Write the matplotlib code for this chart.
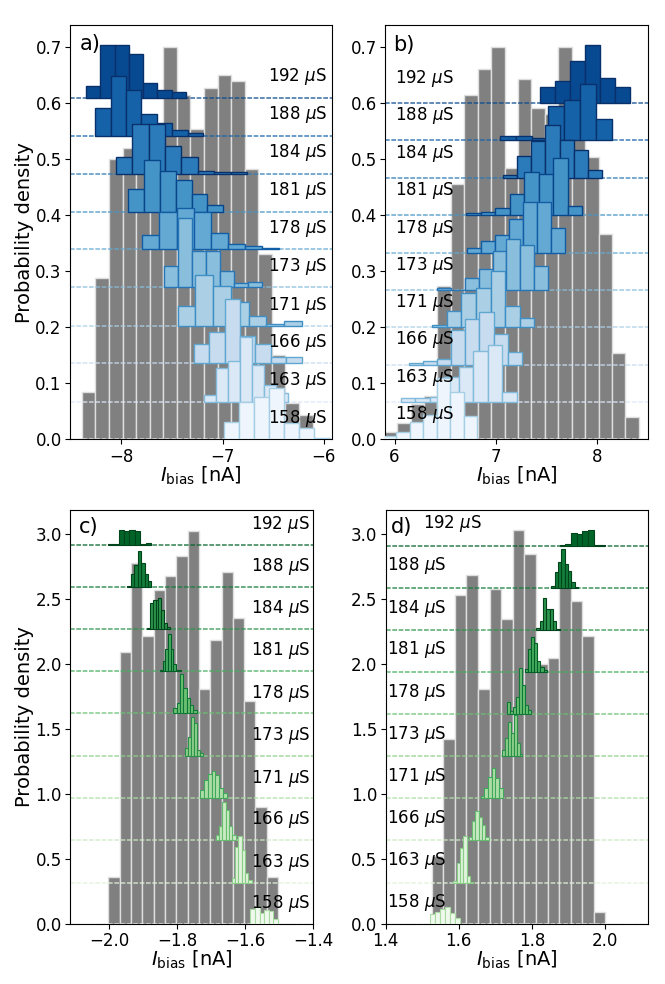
# %% =========================
# Paquetes
# ============================
import numpy as np
import matplotlib
matplotlib.use("Agg")
import matplotlib.pyplot as plt

# %% =========================
# Datos
# ============================

conductancias = [158, 163, 166, 171, 173, 178, 181, 184, 188, 192]

# ---- Panel a (I_bias negativa) ----
a_gris_inicio = -8.389
a_gris_ancho = 0.134
a_gris = [0.084, 0.287, 0.50, 0.52, 0.55, 0.55, 0.70, 0.615, 0.553, 0.627,
          0.65, 0.639, 0.483, 0.331, 0.150, 0.065, 0.043]
a_desplaz = [0.0, 0.067, 0.1355, 0.202, 0.271, 0.339, 0.406, 0.474, 0.541, 0.609]
a_inicio = [-6.987, -7.185, -7.284, -7.443, -7.581, -7.79, -7.934, -8.053, -8.257, -8.347]
a_ancho = [0.149, 0.119, 0.152, 0.175, 0.139, 0.168, 0.157, 0.162, 0.152, 0.141]
a_alturas = [
    [0.031, 0.067, 0.076, 0.091, 0.0285, 0.0207, 0.002],
    [0.012, 0.061, 0.073, 0.115, 0.065, 0.03, 0.016],
    [0.034, 0.056, 0.114, 0.049, 0.034, 0.012, 0.011],
    [0.036, 0.091, 0.071, 0.043, 0.018, 0.003, 0.009],
    [0.038, 0.123, 0.065, 0.065, 0.030, 0.007, 0.010],
    [0.0255, 0.067, 0.074, 0.067, 0.0285, 0.009, 0.005, 0.003],
    [0.040, 0.092, 0.073, 0.056, 0.031, 0.012],
    [0.029, 0.0885, 0.0885, 0.049, 0.029, 0.004, 0.003, 0.003],
    [0.0505, 0.1075, 0.082, 0.039, 0.024, 0.011, 0.005],
    [0.021, 0.094, 0.094, 0.079, 0.027, 0.014, 0.010],
]

# ---- Panel b (I_bias positiva) ----
b_gris_inicio = 5.892
b_gris_ancho = 0.1327
b_gris = [0.0136, 0.0285, 0.063, 0.078, 0.273, 0.456, 0.614, 0.66, 0.70, 0.484,
          0.643, 0.591, 0.58, 0.70, 0.58, 0.504, 0.367, 0.154, 0.040]
b_desplaz = [0.0, 0.066, 0.133, 0.1996, 0.266, 0.3326, 0.400, 0.466, 0.5335, 0.600]
b_inicio = [5.885, 6.06, 6.138, 6.37, 6.42, 6.715, 6.707, 7.07, 7.037, 7.433]
b_ancho = [0.133, 0.1436, 0.140, 0.1445, 0.137, 0.1376, 0.143, 0.140, 0.158, 0.149]
b_alturas = [
    [0.006, 0.0136, 0.031, 0.043, 0.110, 0.085, 0.042],
    [0.007, 0.007, 0.010, 0.0456, 0.0624, 0.092, 0.102, 0.019],
    [0.0025, 0.007, 0.0095, 0.062, 0.081, 0.0945, 0.054, 0.023],
    [0.005, 0.0296, 0.0617, 0.0695, 0.101, 0.038, 0.016],
    [0.003, 0.001, 0.021, 0.0386, 0.070, 0.092, 0.0814, 0.0428],
    [0.008, 0.0214, 0.0316, 0.0595, 0.091, 0.091, 0.045],
    [0.003, 0.006, 0.013, 0.037, 0.076, 0.0725, 0.102, 0.0166],
    [0.005, 0.0387, 0.0654, 0.095, 0.067, 0.0506, 0.0137],
    [0.008, 0.008, 0.004, 0.0606, 0.0713, 0.101, 0.0386],
    [0.0285, 0.0387, 0.0743, 0.103, 0.045, 0.0285],
]

# ---- Panel c (I_bias negativa) ----
c_gris_inicio = -2.003
c_gris_ancho = 0.0333
c_gris = [0.364, 2.096, 2.777, 2.22, 2.571, 2.679, 2.833, 3.028, 1.807, 2.19,
          2.712, 2.358, 1.717, 0.898, 0.364]
c_desplaz = [0.0, 0.318, 0.647, 0.968, 1.296, 1.622, 1.948, 2.271, 2.597, 2.918]
c_inicio = [-1.585, -1.64, -1.687, -1.734, -1.778, -1.812, -1.851, -1.889, -1.947, -2.005]
c_ancho = [0.0135, 0.0098, 0.0098, 0.0115, 0.0088, 0.0098, 0.0078, 0.0083, 0.0101, 0.016]
c_alturas = [
    [0.113, 0.139, 0.082, 0.108, 0.103, 0.036],
    [0.033, 0.277, 0.36, 0.25, 0.072, 0.02],
    [0.038, 0.108, 0.295, 0.23, 0.108, 0.038],
    [0.064, 0.14, 0.19, 0.21, 0.18, 0.077, 0.038],
    [0.056, 0.14, 0.30, 0.25, 0.044, 0.018],
    [0.038, 0.077, 0.30, 0.197, 0.115, 0.064, 0.026],
    [0.008, 0.08, 0.17, 0.285, 0.17, 0.05, 0.01, 0.005],
    [0.01, 0.2, 0.22, 0.225, 0.236, 0.15, 0.045, 0.015],
    [0.005, 0.1, 0.17, 0.275, 0.18, 0.1, 0.04],
    [0.005, 0.01, 0.118, 0.108, 0.118, 0.108, 0.01, 0.015],
]

# ---- Panel d (I_bias positiva) ----
d_gris_inicio = 1.526
d_gris_ancho = 0.0317
d_gris = [0.52, 1.422, 2.533, 2.687, 1.809, 2.579, 2.345, 3.033, 2.846, 2.0,
          2.045, 2.717, 2.487, 2.217, 0.09]
d_desplaz = [0.0, 0.318, 0.647, 0.968, 1.293, 1.617, 1.942, 2.263, 2.589, 2.912]
d_inicio = [1.521, 1.585, 1.627, 1.66, 1.719, 1.733, 1.78, 1.812, 1.853, 1.876]
d_ancho = [0.0139, 0.0091, 0.0091, 0.010, 0.0079, 0.0082, 0.0087, 0.0091, 0.0091, 0.0155]
d_alturas = [
    [0.074, 0.095, 0.113, 0.133, 0.082, 0.044],
    [0.015, 0.149, 0.264, 0.36, 0.05, 0.008],
    [0.026, 0.149, 0.223, 0.175, 0.115, 0.02],
    [0.02, 0.077, 0.167, 0.231, 0.154, 0.077],
    [0.046, 0.136, 0.264, 0.18, 0.316, 0.097, 0.013],
    [0.095, 0.023, 0.05, 0.13, 0.35, 0.22, 0.07, 0.03],
    [0.018, 0.172, 0.27, 0.218, 0.085, 0.038, 0.013],
    [0.015, 0.072, 0.246, 0.162, 0.162, 0.072, 0.008],
    [0.01, 0.12, 0.198, 0.3, 0.185, 0.126, 0.044, 0.005],
    [0.005, 0.01, 0.1, 0.087, 0.113, 0.118, 0.008, 0.003],
]


# %% =========================
# Función de dibujo
# ============================

def dibujar_panel(ax, gris_inicio, gris_ancho, gris, desplaz, inicio, ancho,
                  alturas, cmap, lw_hist):
    # Histograma gris de fondo
    bordes = gris_inicio + gris_ancho * np.arange(len(gris))
    ax.bar(bordes, gris, width=gris_ancho, align="edge", color="#808080",
           edgecolor="#dedede", linewidth=1.0, zorder=1)

    niveles = np.linspace(0.05, 0.9, len(desplaz))
    # Del más oscuro al más claro (los claros quedan encima)
    for k in range(len(desplaz) - 1, -1, -1):
        relleno = cmap(niveles[k])
        borde = cmap(min(niveles[k] + 0.3, 1.0))
        ax.axhline(desplaz[k], color=relleno, ls=(0, (2.8, 1.0)), lw=1.2,
                   alpha=0.75, zorder=2)
        x = inicio[k] + ancho[k] * np.arange(len(alturas[k]))
        ax.bar(x, alturas[k], width=ancho[k], bottom=desplaz[k], align="edge",
               color=relleno, edgecolor=borde, linewidth=lw_hist,
               zorder=3 + (len(desplaz) - k))


def etiquetas(ax, desplaz, xpos, frac, ha, xpos_top=None):
    paso = desplaz[1] - desplaz[0]
    trans = ax.get_yaxis_transform()
    for k, g in enumerate(conductancias):
        x = xpos
        if xpos_top is not None and k == len(conductancias) - 1:
            x = xpos_top
        ax.text(x, desplaz[k] + frac * paso, f"{g} $\\mu$S", transform=trans,
                ha=ha, va="center", fontsize=12, zorder=20)


# %% =========================
# Figura
# ============================

plt.rcParams["font.family"] = ["DejaVu Sans"]

fig = plt.figure(figsize=(6.65, 9.84), dpi=100)

W, H = 665, 984


def caja(x0, y0, x1, y1):
    return [x0 / W, 1 - y1 / H, (x1 - x0) / W, (y1 - y0) / H]


ax_a = fig.add_axes(caja(70, 25, 332, 439.3))
ax_b = fig.add_axes(caja(385.3, 25, 647.7, 439.3))
ax_c = fig.add_axes(caja(70, 510, 313.3, 924))
ax_d = fig.add_axes(caja(385.7, 510, 647.7, 924))

dibujar_panel(ax_a, a_gris_inicio, a_gris_ancho, a_gris, a_desplaz, a_inicio,
              a_ancho, a_alturas, plt.get_cmap("Blues"), 1.0)
dibujar_panel(ax_b, b_gris_inicio, b_gris_ancho, b_gris, b_desplaz, b_inicio,
              b_ancho, b_alturas, plt.get_cmap("Blues"), 1.0)
dibujar_panel(ax_c, c_gris_inicio, c_gris_ancho, c_gris, c_desplaz, c_inicio,
              c_ancho, c_alturas, plt.get_cmap("Greens"), 0.8)
dibujar_panel(ax_d, d_gris_inicio, d_gris_ancho, d_gris, d_desplaz, d_inicio,
              d_ancho, d_alturas, plt.get_cmap("Greens"), 0.8)

etiquetas(ax_a, a_desplaz, 0.98, 0.56, "right")
etiquetas(ax_b, b_desplaz, 0.038, 0.67, "left")
etiquetas(ax_c, c_desplaz, 0.986, 0.49, "right")
etiquetas(ax_d, d_desplaz, 0.005, 0.53, "left", xpos_top=0.144)

# Límites y ticks
ax_a.set_xlim(-8.505, -5.92)
ax_b.set_xlim(5.908, 8.5)
ax_c.set_xlim(-2.116, -1.4)
ax_d.set_xlim(1.4, 2.117)
for ax in (ax_a, ax_b):
    ax.set_ylim(0, 0.739)
    ax.set_yticks(np.arange(0, 0.71, 0.1))
for ax in (ax_c, ax_d):
    ax.set_ylim(0, 3.187)
    ax.set_yticks(np.arange(0, 3.01, 0.5))
ax_a.set_xticks([-8, -7, -6])
ax_b.set_xticks([6, 7, 8])
ax_c.set_xticks([-2.0, -1.8, -1.6, -1.4])
ax_d.set_xticks([1.4, 1.6, 1.8, 2.0])

for ax, letra, xl, yl in [(ax_a, "a)", 0.038, 0.978), (ax_b, "b)", 0.031, 0.975),
                          (ax_c, "c)", 0.038, 0.982), (ax_d, "d)", 0.019, 0.982)]:
    ax.tick_params(labelsize=12, pad=2.5)
    ax.set_xlabel(r"$I_{\mathrm{bias}}$ [nA]", fontsize=14, labelpad=-1)
    ax.text(xl, yl, letra, transform=ax.transAxes, ha="left", va="top",
            fontsize=15, zorder=25)

ax_a.set_ylabel("Probability density", fontsize=14, labelpad=1)
ax_c.set_ylabel("Probability density", fontsize=14, labelpad=1)

fig.savefig("out.png", dpi=100)
